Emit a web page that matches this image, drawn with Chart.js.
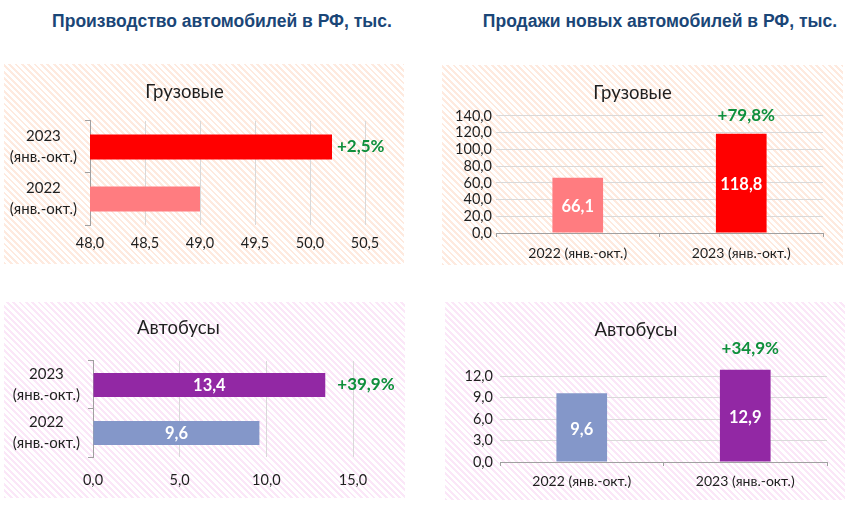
<!DOCTYPE html>
<html>
<head>
<meta charset="utf-8">
<script src="https://cdn.jsdelivr.net/npm/chart.js@4/dist/chart.umd.min.js"></script>
<style>
  html, body { margin: 0; padding: 0; background: #ffffff; width: 850px; height: 511px; overflow: hidden; }
  .hdr { position: absolute; top: 11px; font-family: "Liberation Sans", Arial, sans-serif; font-weight: bold; font-size: 17.5px; color: #1A4677; white-space: nowrap; transform: translateX(-50%); }
  .panel { position: absolute; }
  .peach { background: repeating-linear-gradient(45deg, #feeadf 0px, #feeadf 2px, #ffffff 2px, #ffffff 4.5px); }
  .lilac { background: repeating-linear-gradient(45deg, #fbe7f8 0px, #fbe7f8 2px, #ffffff 2px, #ffffff 4.5px); }
  canvas { display: block; }
</style>
</head>
<body>
<div class="hdr" style="left:222px;">Производство автомобилей в РФ, тыс.</div>
<div class="hdr" style="left:660px;">Продажи новых автомобилей в РФ, тыс.</div>

<div class="panel peach" style="left:4px;top:64px;width:400px;height:200px;"><canvas id="c1" width="400" height="200"></canvas></div>
<div class="panel peach" style="left:442px;top:65px;width:401px;height:200px;"><canvas id="c2" width="401" height="200"></canvas></div>
<div class="panel lilac" style="left:4px;top:302px;width:401px;height:196px;"><canvas id="c3" width="401" height="196"></canvas></div>
<div class="panel lilac" style="left:445px;top:302px;width:400px;height:198px;"><canvas id="c4" width="400" height="198"></canvas></div>

<script>
// ---------- DATA ----------
const prodCategories = [['2023', '(янв.-окт.)'], ['2022', '(янв.-окт.)']];
const prodTrucks = [50.2, 49.0];
const prodBuses = [13.4, 9.6];
const prodTrucksChange = '+2,5%';
const prodBusesChange = '+39,9%';

const salesCategories = ['2022 (янв.-окт.)', '2023 (янв.-окт.)'];
const salesTrucks = [66.1, 118.8];
const salesBuses = [9.6, 12.9];
const salesTrucksChange = '+79,8%';
const salesBusesChange = '+34,9%';

const titleTrucks = 'Грузовые';
const titleBuses = 'Автобусы';

// axis ranges [min, max, step]; tick values
const prodTrucksAxis = [48, 50.5, 0.5];
const prodTrucksTicks = [48, 48.5, 49, 49.5, 50, 50.5];
const prodBusesAxis = [0, 15, 5];
const prodBusesTicks = [0, 5, 10, 15];
const salesTrucksAxis = [0, 140, 20];
const salesTrucksTicks = [0, 20, 40, 60, 80, 100, 120, 140];
const salesBusesAxis = [0, 13, 3];
const salesBusesTicks = [0, 3, 6, 9, 12];

// ---------- STYLE ----------
const FONT = 'Lato, "Open Sans", "DejaVu Sans", sans-serif';
Chart.defaults.font.family = FONT;
Chart.defaults.color = '#1f1f1f';
const GREEN = '#0F8F3C';
const GRID = '#d9d9d9';
const AXIS = '#a0a0a0';
const TXT = '#1f1f1f';
const fmt = v => Number(v).toFixed(1).replace('.', ',');

function labelPlugin(changeText, changeIndex, horizontal, offset) {
  return {
    id: 'barLabels',
    afterDatasetsDraw(chart) {
      const ctx = chart.ctx;
      const meta = chart.getDatasetMeta(0);
      const data = chart.data.datasets[0].data;
      ctx.save();
      ctx.textBaseline = 'middle';
      meta.data.forEach((el, i) => {
        ctx.font = 'bold 16.5px ' + FONT;
        ctx.fillStyle = '#ffffff';
        ctx.textAlign = 'center';
        if (horizontal) {
          ctx.fillText(fmt(data[i]), (el.x + el.base) / 2, el.y + 1);
        } else {
          ctx.fillText(fmt(data[i]), el.x, (el.y + el.base) / 2 + 2);
        }
        if (i === changeIndex) {
          ctx.font = 'bold 17px ' + FONT;
          ctx.fillStyle = GREEN;
          if (horizontal) {
            ctx.textAlign = 'left';
            ctx.fillText(changeText, el.x + offset, el.y);
          } else {
            ctx.textAlign = 'center';
            ctx.fillText(changeText, el.x + 5, el.y - offset);
          }
        }
      });
      ctx.restore();
    }
  };
}

function horizontalChart(id, labels, values, colors, axis, tickVals, title, opts) {
  return new Chart(document.getElementById(id), {
    type: 'bar',
    data: { labels: labels, datasets: [{ data: values, backgroundColor: colors, borderWidth: 0,
      categoryPercentage: 1, barPercentage: opts.barPct }] },
    options: {
      indexAxis: 'y', responsive: false, animation: false,
      layout: { padding: { left: 0, right: opts.padRight, top: 0, bottom: 0 } },
      plugins: {
        legend: { display: false }, tooltip: { enabled: false },
        title: { display: true, text: title, font: { size: 18.5, weight: 'normal', lineHeight: 1.1 }, color: TXT,
          padding: { top: opts.titleTop, bottom: opts.titleBottom } }
      },
      scales: {
        x: {
          min: axis[0], max: axis[1],
          ticks: { stepSize: axis[2], autoSkip: false, callback: v => fmt(v), font: { size: 14.5 }, padding: opts.xPad, color: TXT },
          afterBuildTicks: s => { s.ticks = tickVals.map(v => ({ value: v })); },
          grid: { color: GRID, drawTicks: false },
          border: { display: false },
          afterFit: s => { s.height = opts.xHeight; }
        },
        y: {
          ticks: { font: { size: 15, lineHeight: 1.4 }, crossAlign: 'center', padding: opts.yPad, color: TXT },
          grid: { offset: true, drawOnChartArea: false, tickLength: 5, color: AXIS },
          border: { display: true, color: AXIS },
          afterFit: s => { s.width = opts.yWidth; }
        }
      }
    },
    plugins: [labelPlugin(opts.change, 0, true, opts.changeOffset)]
  });
}

function verticalChart(id, labels, values, colors, axis, tickVals, title, opts) {
  return new Chart(document.getElementById(id), {
    type: 'bar',
    data: { labels: labels, datasets: [{ data: values, backgroundColor: colors, borderWidth: 0,
      categoryPercentage: 1, barPercentage: opts.barPct }] },
    options: {
      responsive: false, animation: false,
      layout: { padding: { left: 0, right: opts.padRight, top: 0, bottom: 0 } },
      plugins: {
        legend: { display: false }, tooltip: { enabled: false },
        title: { display: true, text: title, font: { size: 18.5, weight: 'normal', lineHeight: 1.1 }, color: TXT,
          padding: { top: opts.titleTop, bottom: opts.titleBottom } }
      },
      scales: {
        x: {
          ticks: { font: { size: 14 }, padding: opts.xPad, color: TXT },
          grid: { offset: true, drawOnChartArea: false, tickLength: 4, color: AXIS },
          border: { display: true, color: AXIS },
          afterFit: s => { s.height = opts.xHeight; }
        },
        y: {
          min: axis[0], max: axis[1],
          ticks: { stepSize: axis[2], autoSkip: false, callback: v => fmt(v), font: { size: 14.5, lineHeight: 1 }, padding: opts.yPad, color: TXT },
          afterBuildTicks: s => { s.ticks = tickVals.map(v => ({ value: v })); },
          grid: { color: GRID, drawTicks: false },
          border: { display: false },
          afterFit: s => { s.width = opts.yWidth; }
        }
      }
    },
    plugins: [labelPlugin(opts.change, 1, false, opts.changeOffset)]
  });
}

horizontalChart('c1', prodCategories, prodTrucks, ['#FF0000', '#FF7C80'], prodTrucksAxis, prodTrucksTicks, titleTrucks,
  { barPct: 0.48, padRight: 39, titleTop: 18, titleBottom: 18.6, xPad: 10, xHeight: 39, yPad: 8, yWidth: 86,
    change: prodTrucksChange, changeOffset: 5 });

verticalChart('c2', salesCategories, salesTrucks, ['#FF7C80', '#FF0000'], salesTrucksAxis, salesTrucksTicks, titleTrucks,
  { barPct: 0.31, padRight: 20, titleTop: 17.8, titleBottom: 12.8, xPad: 8, xHeight: 32, yPad: 4, yWidth: 54,
    change: salesTrucksChange, changeOffset: 18 });

horizontalChart('c3', prodCategories, prodBuses, ['#9228A4', '#8497C9'], prodBusesAxis, prodBusesTicks, titleBuses,
  { barPct: 0.5, padRight: 52, titleTop: 15.8, titleBottom: 22.8, xPad: 15, xHeight: 41, yPad: 8, yWidth: 89,
    change: prodBusesChange, changeOffset: 12 });

verticalChart('c4', salesCategories, salesBuses, ['#8497C9', '#9228A4'], salesBusesAxis, salesBusesTicks, titleBuses,
  { barPct: 0.31, padRight: 18, titleTop: 17.8, titleBottom: 28.8, xPad: 7, xHeight: 38, yPad: 7, yWidth: 55,
    change: salesBusesChange, changeOffset: 21 });
</script>
</body>
</html>
